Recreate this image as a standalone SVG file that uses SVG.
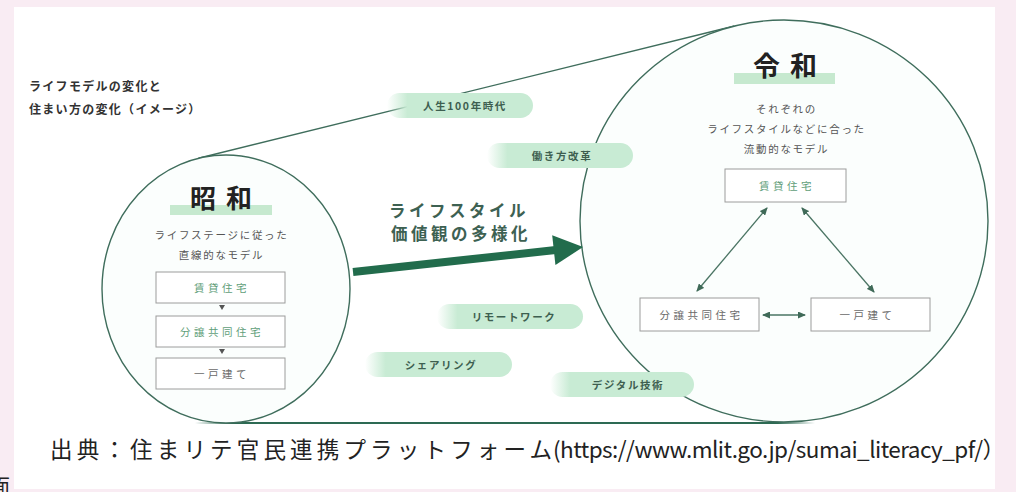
<svg xmlns="http://www.w3.org/2000/svg" width="1016" height="492" viewBox="0 0 1016 492">
<style>
text{font-family:"Noto Sans CJK JP","Noto Sans",sans-serif}
.title{font-size:12px;font-weight:700;fill:#333;letter-spacing:1.3px}
.era{font-size:26px;font-weight:700;fill:#222;letter-spacing:10px;text-anchor:middle}
.bar{fill:#c6e9cf}
.desc{font-size:10.5px;fill:#555;letter-spacing:1.7px;text-anchor:middle}
.box{fill:#fff;stroke:#9c9c9c;stroke-width:1}
.bt{font-size:10.5px;letter-spacing:3.5px;text-anchor:middle}
.g{fill:#5f9e79}
.k{fill:#6a6a6a}
.pill{fill:url(#pg)}
.pt{font-size:10.5px;font-weight:700;fill:#3e5f50;letter-spacing:1.6px;text-anchor:middle}
.circ{fill:#fbfefd;stroke:#3f6d5c;stroke-width:1.4}
.con{stroke:#4a7463;stroke-width:1.3;fill:none}
.big{font-size:16.5px;font-weight:700;fill:#3d6152;letter-spacing:3.5px;text-anchor:middle}
.cap{font-size:22.5px;fill:#222}
</style>
<defs>
<linearGradient id="pg" x1="0" y1="0" x2="1" y2="0">
<stop offset="0" stop-color="#c8ebd4" stop-opacity="0"/>
<stop offset="0.14" stop-color="#c8ebd4" stop-opacity="1"/>
<stop offset="1" stop-color="#c8ebd4" stop-opacity="1"/>
</linearGradient>
<linearGradient id="bl" gradientUnits="userSpaceOnUse" x1="195" y1="0" x2="815" y2="0">
<stop offset="0" stop-color="#2d6a53" stop-opacity="0"/>
<stop offset="0.06" stop-color="#2d6a53" stop-opacity="1"/>
<stop offset="0.94" stop-color="#2d6a53" stop-opacity="1"/>
<stop offset="1" stop-color="#2d6a53" stop-opacity="0"/>
</linearGradient>
<marker id="ah" viewBox="0 0 8 7" refX="7" refY="3.5" markerWidth="8" markerHeight="7" markerUnits="userSpaceOnUse" orient="auto-start-reverse">
<path d="M0,0 L8,3.5 L0,7 z" fill="#3f6a58"/>
</marker>
</defs>

<rect x="0" y="0" width="1016" height="492" fill="#f9ecf3"/>
<text x="-10" y="494" font-size="20" fill="#222" style="font-family:'Noto Sans CJK JP',sans-serif">面</text>
<rect x="14" y="7" width="981" height="482" fill="#ffffff"/>

<g id="heading">
<text class="title" x="29" y="91">ライフモデルの変化と</text>
<text class="title" x="29" y="114">住まい方の変化（イメージ）</text>
</g>

<g id="connectors">
<line x1="198.4" y1="158.3" x2="734.4" y2="26" stroke="#3f6d5c" stroke-width="1.4"/>
<line x1="195" y1="423" x2="815" y2="423" stroke="url(#bl)" stroke-width="2"/>
</g>

<g id="showa">
<ellipse class="circ" cx="226" cy="289" rx="124" ry="134"/>
<rect class="bar" x="170" y="205" width="102" height="10"/>
<text class="era" x="226" y="208">昭和</text>
<text class="desc" x="221.5" y="239">ライフステージに従った</text>
<text class="desc" x="221.5" y="259">直線的なモデル</text>
<g id="showa-rent">
<rect class="box" x="156" y="272" width="129" height="31"/>
<text class="bt g" x="222" y="291.5">賃貸住宅</text>
</g>
<path d="M219,305 L225,305 L222,310 z" fill="#555"/>
<g id="showa-condo">
<rect class="box" x="156" y="316" width="129" height="31"/>
<text class="bt g" x="222" y="335.5">分譲共同住宅</text>
</g>
<path d="M219,349 L225,349 L222,354 z" fill="#555"/>
<g id="showa-house">
<rect class="box" x="156" y="358" width="129" height="31"/>
<text class="bt k" x="222" y="377.5">一戸建て</text>
</g>
</g>

<g id="reiwa">
<ellipse class="circ" cx="784" cy="221" rx="204" ry="201"/>
<rect class="bar" x="734" y="73" width="101" height="11"/>
<text class="era" x="790" y="76" style="font-size:27px">令和</text>
<text class="desc" x="786.5" y="113">それぞれの</text>
<text class="desc" x="786.5" y="133">ライフスタイルなどに合った</text>
<text class="desc" x="786.5" y="153">流動的なモデル</text>
<g id="reiwa-rent">
<rect class="box" x="725" y="169" width="121" height="33"/>
<text class="bt g" x="787" y="189.5">賃貸住宅</text>
</g>
<g id="reiwa-condo">
<rect class="box" x="640" y="298" width="119" height="33"/>
<text class="bt k" x="701.5" y="318.5">分譲共同住宅</text>
</g>
<g id="reiwa-house">
<rect class="box" x="811" y="298" width="119" height="33"/>
<text class="bt k" x="867.5" y="318.5">一戸建て</text>
</g>
<g id="reiwa-links">
<line class="con" x1="767" y1="208" x2="697" y2="291" marker-start="url(#ah)" marker-end="url(#ah)"/>
<line class="con" x1="802" y1="208" x2="874" y2="292" marker-start="url(#ah)" marker-end="url(#ah)"/>
<line class="con" x1="763" y1="315" x2="805" y2="315" marker-start="url(#ah)" marker-end="url(#ah)"/>
</g>
</g>

<g id="shift-arrow">
<g transform="rotate(-6.2 353 272)">
<rect x="353" y="268" width="204" height="8" fill="#226c4c"/>
<polygon points="555,257 555,287 584.4,272" fill="#226c4c"/>
</g>
<text class="big" x="459" y="217">ライフスタイル</text>
<text class="big" x="461" y="240">価値観の多様化</text>
</g>

<g id="pill-life100">
<rect class="pill" x="387" y="93" width="146" height="25" rx="12.5"/>
<text class="pt" x="465" y="109.5">人生100年時代</text>
</g>
<g id="pill-work">
<rect class="pill" x="487" y="143" width="146" height="25" rx="12.5"/>
<text class="pt" x="562" y="159.5">働き方改革</text>
</g>
<g id="pill-remote">
<rect class="pill" x="437" y="304" width="146" height="25" rx="12.5"/>
<text class="pt" x="514" y="320.5">リモートワーク</text>
</g>
<g id="pill-share">
<rect class="pill" x="365" y="352" width="147" height="25" rx="12.5"/>
<text class="pt" x="441" y="368.5">シェアリング</text>
</g>
<g id="pill-digital">
<rect class="pill" x="550" y="372" width="144" height="25" rx="12.5"/>
<text class="pt" x="628" y="388.5">デジタル技術</text>
</g>

<g id="caption">
<text class="cap" x="50" y="458" textLength="502" lengthAdjust="spacing">出典：住まリテ官民連携プラットフォーム</text>
<text class="cap" x="553" y="458" textLength="452" lengthAdjust="spacing">(https://www.mlit.go.jp/sumai_literacy_pf/）</text>
</g>
</svg>
